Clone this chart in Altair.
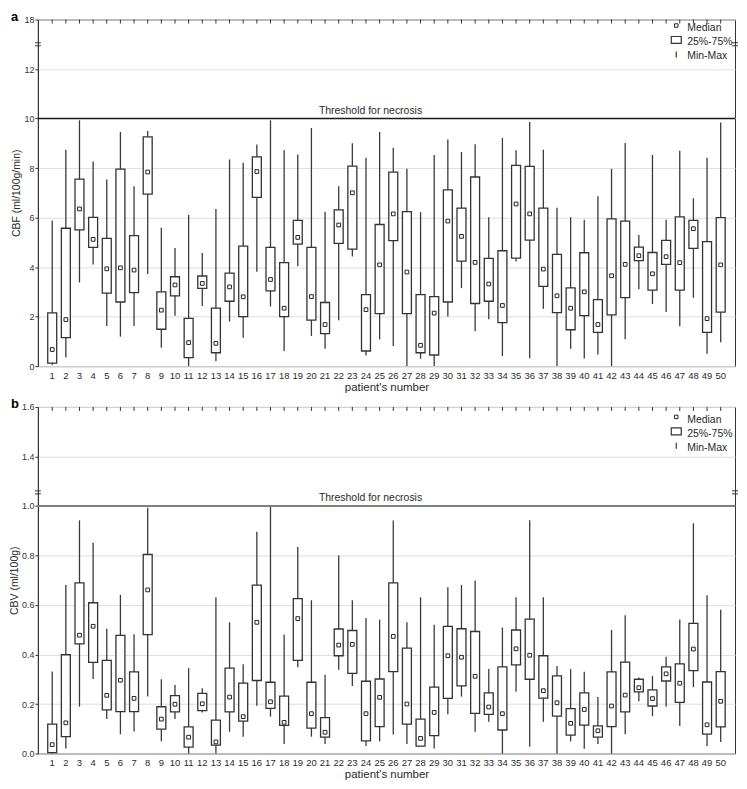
import altair as alt
import pandas as pd

patients = list(range(1, 51))

# CBF (ml/100g/min)
cbf_min = [0.05, 0.35, 3.38, 4.11, 1.62, 1.19, 1.62, 3.72, 0.74, 2.03,
           0.0, 2.43, 0.2, 1.8, 1.15, 3.81, 2.41, 0.61, 4.03, 1.22,
           0.7, 1.85, 4.43, 0.43, 1.08, 0.81, 0.0, 0.3, 0.0, 2.0,
           3.15, 1.41, 1.89, 0.41, 4.23, 0.32, 2.32, 0.0, 0.7, 0.31,
           0.47, 0.0, 1.09, 3.11, 2.51, 2.19, 1.61, 2.76, 0.5, 0.96]
cbf_q1 = [0.12, 1.15, 5.5, 4.8, 2.95, 2.59, 2.97, 6.95, 1.49, 2.84,
          0.34, 3.14, 0.54, 2.62, 2.0, 6.82, 3.04, 2.0, 4.93, 1.86,
          1.31, 4.96, 4.73, 0.61, 2.12, 5.07, 2.12, 0.54, 0.45, 2.59,
          4.24, 2.53, 2.62, 1.76, 4.36, 5.09, 3.22, 2.16, 1.47, 2.04,
          1.36, 2.07, 2.77, 4.26, 3.07, 4.11, 3.07, 4.76, 1.36, 2.18]
cbf_med = [0.67, 1.88, 6.35, 5.12, 3.93, 3.97, 3.88, 7.84, 2.26, 3.28,
           0.95, 3.34, 0.92, 3.2, 2.8, 7.86, 3.5, 2.34, 5.2, 2.81,
           1.68, 5.7, 7.0, 2.28, 4.09, 6.15, 3.8, 0.84, 2.14, 5.86,
           5.24, 4.19, 3.32, 2.45, 6.55, 6.15, 3.92, 2.84, 2.34, 3.0,
           1.68, 3.65, 4.11, 4.46, 3.73, 4.42, 4.18, 5.55, 1.92, 4.09]
cbf_q3 = [2.15, 5.57, 7.55, 6.01, 5.16, 7.96, 5.27, 9.26, 3.0, 3.61,
          1.93, 3.64, 2.34, 3.76, 4.85, 8.45, 4.8, 4.18, 5.89, 4.8,
          2.57, 6.31, 8.08, 2.89, 5.72, 7.84, 6.24, 2.89, 2.81, 7.12,
          6.38, 7.64, 4.35, 4.66, 8.11, 8.07, 6.38, 4.51, 3.16, 4.58,
          2.69, 5.95, 5.86, 4.81, 4.59, 5.08, 6.03, 5.89, 5.03, 6.0]
cbf_max = [5.88, 8.74, 9.93, 8.27, 7.54, 9.46, 7.27, 9.5, 5.59, 4.77,
           6.11, 4.57, 6.35, 8.35, 8.22, 8.95, 9.93, 8.72, 8.55, 9.62,
           6.24, 7.27, 9.0, 8.42, 9.46, 8.82, 7.97, 6.22, 8.53, 9.15,
           8.65, 8.96, 6.01, 9.22, 8.72, 9.86, 8.74, 6.4, 6.01, 5.91,
           6.86, 7.97, 9.01, 5.3, 8.53, 5.91, 8.7, 6.78, 8.42, 9.84]

# CBV (ml/100g)
cbv_min = [0.0, 0.02, 0.189, 0.301, 0.139, 0.078, 0.089, 0.23, 0.05, 0.139,
           0.0, 0.166, 0.0, 0.088, 0.068, 0.193, 0.149, 0.038, 0.349, 0.068,
           0.039, 0.338, 0.273, 0.03, 0.049, 0.077, 0.038, 0.03, 0.02, 0.159,
           0.23, 0.088, 0.128, 0.0, 0.25, 0.027, 0.128, 0.0, 0.049, 0.019,
           0.039, 0.0, 0.078, 0.211, 0.151, 0.189, 0.111, 0.268, 0.03, 0.047]
cbv_q1 = [0.004, 0.068, 0.443, 0.368, 0.176, 0.169, 0.169, 0.48, 0.099, 0.168,
          0.026, 0.173, 0.034, 0.168, 0.131, 0.295, 0.182, 0.114, 0.376, 0.103,
          0.066, 0.395, 0.324, 0.051, 0.109, 0.331, 0.119, 0.03, 0.072, 0.223,
          0.273, 0.162, 0.158, 0.095, 0.358, 0.3, 0.224, 0.151, 0.074, 0.115,
          0.066, 0.109, 0.168, 0.249, 0.192, 0.293, 0.207, 0.335, 0.078, 0.108]
cbv_med = [0.036, 0.124, 0.478, 0.514, 0.235, 0.296, 0.223, 0.661, 0.139, 0.199,
           0.066, 0.201, 0.047, 0.228, 0.149, 0.53, 0.209, 0.126, 0.545, 0.161,
           0.086, 0.438, 0.441, 0.161, 0.227, 0.473, 0.2, 0.061, 0.166, 0.395,
           0.389, 0.312, 0.188, 0.161, 0.423, 0.397, 0.254, 0.205, 0.122, 0.178,
           0.092, 0.192, 0.236, 0.266, 0.222, 0.322, 0.284, 0.422, 0.116, 0.211]
cbv_q3 = [0.119, 0.399, 0.689, 0.609, 0.376, 0.477, 0.33, 0.804, 0.189, 0.234,
          0.108, 0.243, 0.135, 0.345, 0.284, 0.68, 0.288, 0.232, 0.626, 0.288,
          0.145, 0.503, 0.497, 0.292, 0.301, 0.689, 0.426, 0.139, 0.268, 0.514,
          0.504, 0.493, 0.245, 0.35, 0.499, 0.543, 0.395, 0.314, 0.181, 0.245,
          0.112, 0.33, 0.369, 0.3, 0.257, 0.35, 0.362, 0.526, 0.289, 0.331]
cbv_max = [0.331, 0.681, 0.942, 0.851, 0.504, 0.641, 0.482, 0.993, 0.3, 0.277,
           0.345, 0.264, 0.631, 0.53, 0.361, 0.896, 1.0, 0.481, 0.834, 0.619,
           0.318, 0.8, 0.619, 0.547, 0.541, 0.941, 0.53, 0.631, 0.52, 0.672,
           0.681, 0.699, 0.341, 0.509, 0.631, 0.942, 0.631, 0.354, 0.341, 0.33,
           0.228, 0.499, 0.559, 0.307, 0.314, 0.391, 0.541, 0.93, 0.639, 0.581]

W = 700
H = 348
FONT = "Liberation Sans"
DARK = "#2a2a2a"


def panel(mins, q1s, meds, q3s, maxs, domain, yvals, label_expr, ytitle,
          threshold, thr_color, thr_width, break_y, letter, leg_dy):
    df = pd.DataFrame({"patient": patients, "min": mins, "q1": q1s,
                       "med": meds, "q3": q3s, "max": maxs})
    one = pd.DataFrame({"k": [0]})
    yscale = alt.Scale(domain=domain, nice=False, zero=False)
    xenc = alt.X("patient:O",
                 scale=alt.Scale(paddingInner=0, paddingOuter=0.55),
                 axis=alt.Axis(title="patient's number", labelAngle=0, ticks=False,
                               labelPadding=4, labelFontSize=9.5, labelColor=DARK,
                               titleFontSize=11.5, titleFontWeight="normal",
                               titleColor=DARK, titlePadding=2, domain=False))
    yaxis = alt.Axis(title=ytitle, values=yvals, labelExpr=label_expr,
                     labelFontSize=9, labelColor="#333", tickSize=3, tickColor="#333",
                     titleFontSize=10.5, titleFontWeight="normal", titleColor=DARK,
                     titlePadding=2, gridColor="#dedede", gridWidth=1,
                     domainColor="#333", labelPadding=1)
    base = alt.Chart(df).encode(x=xenc)
    whisk = base.mark_rule(color="#3a3a3a", strokeWidth=1.3).encode(
        y=alt.Y("min:Q", scale=yscale, axis=yaxis), y2="max:Q")
    box = base.mark_bar(size=9, fill="white", stroke="#333", strokeWidth=1.3).encode(
        y="q1:Q", y2="q3:Q")
    med = base.mark_square(size=14, fill="white", stroke="#222", strokeWidth=1,
                           opacity=1).encode(y="med:Q")
    topticks = base.mark_rule(color="#333", strokeWidth=1).encode(
        y=alt.value(0), y2=alt.value(4))
    thr = alt.Chart(one).mark_rule(color=thr_color, strokeWidth=thr_width).encode(
        y=alt.datum(threshold))
    thr_txt = alt.Chart(one).mark_text(fontSize=10.5, color=DARK, dy=-8).encode(
        x=alt.value(334), y=alt.datum(threshold), text=alt.value("Threshold for necrosis"))
    # break markers on both vertical axes
    brk = []
    for xpos in (0, W):
        for off in (-1.5, 1.5):
            brk.append(alt.Chart(one).mark_rule(color="#333", strokeWidth=1,
                                                yOffset=off).encode(
                x=alt.value(xpos - 3), x2=alt.value(xpos + 3), y=alt.datum(break_y)))
    # legend
    lx = W - 59
    leg_med = alt.Chart(one).mark_square(size=12, fill="white", stroke="#222",
                                         strokeWidth=1, opacity=1).encode(
        x=alt.value(lx), y=alt.value(6 + leg_dy))
    leg_box = alt.Chart(one).mark_rect(fill="white", stroke="#333", strokeWidth=1.2).encode(
        x=alt.value(lx - 5), x2=alt.value(lx + 5), y=alt.value(17 + leg_dy),
        y2=alt.value(24 + leg_dy))
    leg_line = alt.Chart(one).mark_rule(color="#333", strokeWidth=1.2).encode(
        x=alt.value(lx), y=alt.value(32 + leg_dy), y2=alt.value(38 + leg_dy))
    leg_txt = alt.Chart(pd.DataFrame({"t": ["Median", "25%-75%", "Min-Max"],
                                      "yy": [9 + leg_dy, 23 + leg_dy, 37 + leg_dy]})
                        ).mark_text(align="left", fontSize=10.5, color=DARK).encode(
        x=alt.value(lx + 11), y=alt.Y("yy:Q", scale=None), text="t:N")
    layers = [whisk, box, med, topticks, thr, thr_txt] + brk + \
             [leg_med, leg_box, leg_line, leg_txt]
    return alt.layer(*layers).properties(
        width=W, height=H,
        title=alt.TitleParams(letter, anchor="start", frame="group", fontSize=13,
                              fontWeight="bold", offset=-8, dx=-27, color="#000"))


top = panel(cbf_min, cbf_q1, cbf_med, cbf_q3, cbf_max, [0, 14],
            [0, 2, 4, 6, 8, 10, 12, 14],
            "datum.value >= 13.9 ? '18' : format(datum.value, 'd')",
            "CBF (ml/100g/min)", 10, "#1a1a1a", 1.4, 13.0, "a", 0)
bottom = panel(cbv_min, cbv_q1, cbv_med, cbv_q3, cbv_max, [0, 1.4],
               [0, 0.2, 0.4, 0.6, 0.8, 1.0, 1.2, 1.4],
               "datum.value >= 1.35 ? '1.6' : (datum.value >= 1.15 ? '1.4' : format(datum.value, '.1f'))",
               "CBV (ml/100g)", 1.0, "#808080", 2, 1.055, "b", 4)

chart = alt.vconcat(top, bottom, spacing=3).properties(padding=0).configure(
    font=FONT, background="white").configure_view(
    stroke="#333", strokeWidth=1)

chart.save("out.html", embed_options={"renderer": "svg", "actions": False})
